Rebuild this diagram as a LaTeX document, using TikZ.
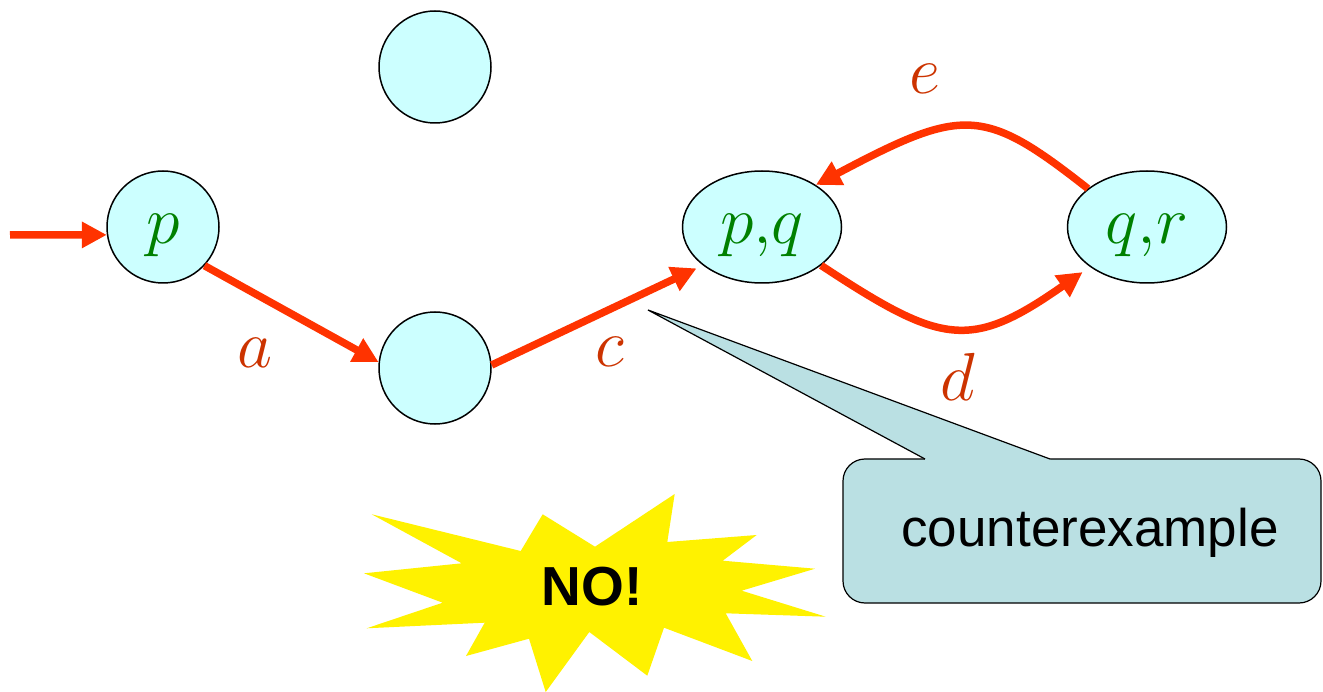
\documentclass[tikz,border=0pt]{standalone}
\usepackage{fix-cm}
\usepackage{fontspec}
\setsansfont{Liberation Sans}
\usetikzlibrary{arrows.meta,shapes.geometric}
\definecolor{arrowred}{RGB}{255,51,0}
\definecolor{labelred}{RGB}{204,51,0}
\definecolor{stategreen}{RGB}{0,128,0}
\definecolor{statefill}{RGB}{204,255,255}
\definecolor{calloutfill}{RGB}{186,224,227}
\begin{document}
\begin{tikzpicture}[x=1pt,y=-1pt,
  state/.style={circle,draw=black,line width=1.5pt,fill=statefill,minimum size=112pt,inner sep=0pt,
    text=stategreen,font=\fontsize{68}{80}\selectfont,text height=41pt,text depth=7pt},
  pairstate/.style={state,ellipse,minimum width=159pt,minimum height=112pt},
  trans/.style={draw=arrowred,line width=7.5pt,-{Triangle[length=25pt,width=25pt]}},
  lbl/.style={text=labelred,font=\fontsize{68}{80}\selectfont,inner sep=0pt},
  calloutshape/.style={fill=calloutfill,draw=black,line width=1.2pt},
]
\useasboundingbox (0,0) rectangle (1323,692);

% states
\node[state] (p) at (163,227) {$p$};
\node[state] (top) at (435,67) {};
\node[state] (mid) at (435,368) {};
\node[pairstate] (pq) at (762,227) {$p{,}q$};
\node[pairstate] (qr) at (1147,227) {$q{,}r$};
\coordinate (init) at (10,235);

% transitions
\draw[trans] (init) -- (p.188);
\draw[trans] (p.-43) -- (mid.174);
\draw[trans,shorten >=7pt] (mid.3) -- (pq.213);
\draw[trans,shorten >=9pt] (pq.-33) .. controls (942,345) and (970,351) .. (qr.215);
\draw[trans] (qr.147) .. controls (983,106) and (963,107) .. (pq.38);

% labels
\node[lbl] (la) at (255,353) {$a$};
\node[lbl] (lc) at (610,352) {$c$};
\node[lbl] (ld) at (958,377) {$d$};
\node[lbl] (le) at (925,79) {$e$};

% callout
\draw[calloutshape,rounded corners=22pt] (843,459) rectangle (1321,603);
\fill[calloutfill] (648,310) -- (1050,459) -- (1050,462) -- (925,462) -- (925,459) -- cycle;
\draw[black,line width=1.2pt,line join=miter] (925,459) -- (648,310) -- (1050,459);
\node[font=\sffamily\fontsize{53}{60}\selectfont,inner sep=0pt] (ce) at (1090,533) {counterexample};

% starburst
\fill[yellow] (371.7,514.3) -- (520.7,551) -- (542.7,514.3) -- (595,546.7) -- (674.7,494)
  -- (667.3,542) -- (756.7,535) -- (722.7,560.7) -- (815,568.7) -- (741.7,590.7)
  -- (825.7,616.7) -- (725.7,613.3) -- (752.3,661) -- (664,627.7) -- (647.3,675.7)
  -- (589.3,632) -- (545.7,692) -- (529,638.7) -- (466,656) -- (484.7,622.7)
  -- (366.7,628.3) -- (442.7,602.7) -- (364,573.3) -- (461.7,563.3) -- cycle;
\node[font=\sffamily\bfseries\fontsize{55}{60}\selectfont,inner sep=0pt] (no) at (592,587) {NO!};
\end{tikzpicture}
\end{document}
